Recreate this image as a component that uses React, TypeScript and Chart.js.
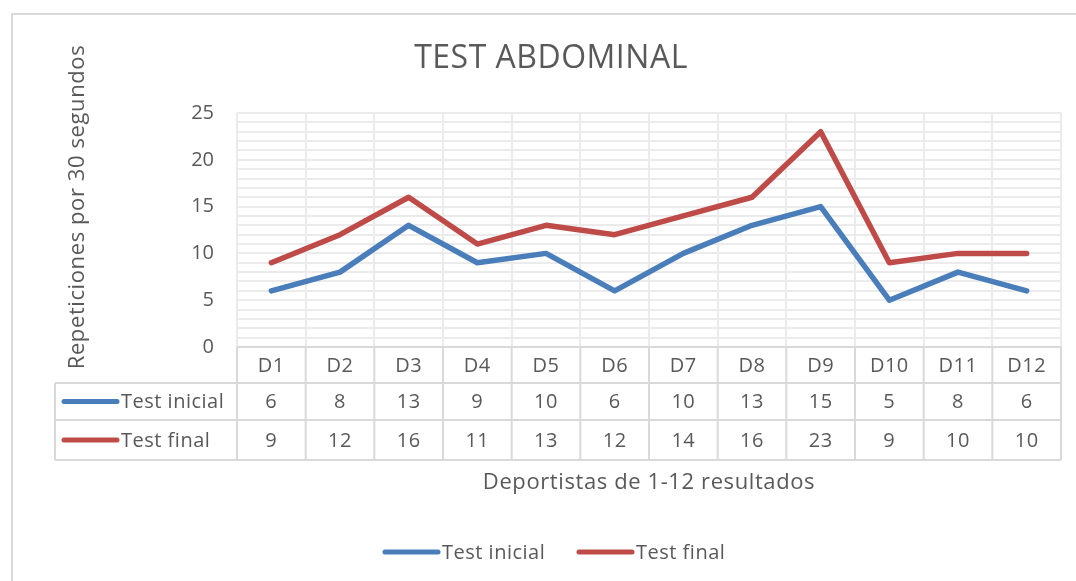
import React, { useEffect, useRef } from "react";
import { Chart, registerables } from "chart.js";

Chart.register(...registerables);

const categories = ["D1", "D2", "D3", "D4", "D5", "D6", "D7", "D8", "D9", "D10", "D11", "D12"];
const testInicial = [6, 8, 13, 9, 10, 6, 10, 13, 15, 5, 8, 6];
const testFinal = [9, 12, 16, 11, 13, 12, 14, 16, 23, 9, 10, 10];
const seriesNames = ["Test inicial", "Test final"];
const seriesColors = ["#4a7ebb", "#be4b48"];
const chartTitle = "TEST ABDOMINAL";
const yTitle = "Repeticiones por 30 segundos";
const xTitle = "Deportistas de 1-12 resultados";

const FONT = "'Open Sans', 'DejaVu Sans', sans-serif";
const TEXT = "#595959";
const BORDER = "#d9d9d9";

const tablePlugin = {
  id: "excelDecor",
  afterDraw(chart: any) {
    const ctx = chart.ctx as any;
    const x = chart.scales.x;
    const area = chart.chartArea;
    const n = categories.length;
    const step = (area.right - area.left) / n;
    const rowTop = area.bottom;
    const rowH = [36, 37, 40];
    const r1 = rowTop + rowH[0];
    const r2 = r1 + rowH[1];
    const r3 = r2 + rowH[2];
    const labelLeft = 55;

    ctx.save();
    // outer chart border
    ctx.strokeStyle = BORDER;
    ctx.lineWidth = 2;
    ctx.strokeRect(12, 14, 1200, 700);

    // table grid
    ctx.lineWidth = 2;
    ctx.strokeStyle = BORDER;
    ctx.beginPath();
    ctx.moveTo(area.left, rowTop);
    ctx.lineTo(area.right, rowTop);
    ctx.moveTo(labelLeft, r1);
    ctx.lineTo(area.right, r1);
    ctx.moveTo(labelLeft, r2);
    ctx.lineTo(area.right, r2);
    ctx.moveTo(labelLeft, r3);
    ctx.lineTo(area.right, r3);
    ctx.moveTo(labelLeft, r1);
    ctx.lineTo(labelLeft, r3);
    for (let i = 0; i <= n; i++) {
      const px = area.left + i * step;
      ctx.moveTo(px, rowTop);
      ctx.lineTo(px, r3);
    }
    ctx.stroke();

    // table texts
    ctx.fillStyle = TEXT;
    ctx.font = `20px ${FONT}`;
    ctx.letterSpacing = "0.5px";
    ctx.textAlign = "center";
    ctx.textBaseline = "middle";
    const rows = [testInicial, testFinal];
    for (let i = 0; i < n; i++) {
      const cx = x.getPixelForValue(i);
      ctx.fillText(categories[i], cx, rowTop + rowH[0] / 2 + 1);
      ctx.fillText(String(rows[0][i]), cx, r1 + rowH[1] / 2 + 1);
      ctx.fillText(String(rows[1][i]), cx, r2 + rowH[2] / 2 + 1);
    }

    // legend keys in table
    const keyRows = [r1 + rowH[1] / 2, r2 + rowH[2] / 2];
    ctx.lineCap = "round";
    for (let s = 0; s < 2; s++) {
      ctx.strokeStyle = seriesColors[s];
      ctx.lineWidth = 5;
      ctx.beginPath();
      ctx.moveTo(64, keyRows[s]);
      ctx.lineTo(117, keyRows[s]);
      ctx.stroke();
      ctx.fillStyle = TEXT;
      ctx.textAlign = "left";
      ctx.fillText(seriesNames[s], 121, keyRows[s] + 1);
    }

    // title
    ctx.textAlign = "center";
    ctx.font = `32px ${FONT}`;
    ctx.fillText(chartTitle, 551, 59);

    // x axis title
    ctx.font = `22px ${FONT}`;
    ctx.letterSpacing = "0.6px";
    ctx.fillText(xTitle, 649, 483);

    // y axis title
    ctx.save();
    ctx.translate(78, 207);
    ctx.rotate(-Math.PI / 2);
    ctx.fillText(yTitle, 0, 0);
    ctx.restore();

    // bottom legend
    ctx.font = `20px ${FONT}`;
    ctx.letterSpacing = "0.5px";
    ctx.textAlign = "left";
    const legendY = 552;
    const starts = [385, 579];
    for (let s = 0; s < 2; s++) {
      ctx.strokeStyle = seriesColors[s];
      ctx.lineWidth = 5;
      ctx.beginPath();
      ctx.moveTo(starts[s], legendY);
      ctx.lineTo(starts[s] + 53, legendY);
      ctx.stroke();
      ctx.fillStyle = TEXT;
      ctx.fillText(seriesNames[s], starts[s] + 57, legendY + 1);
    }
    ctx.letterSpacing = "0px";
    ctx.restore();
  },
};

export default function App() {
  const ref = useRef<HTMLCanvasElement | null>(null);
  useEffect(() => {
    if (!ref.current) return;
    const chart = new Chart(ref.current, {
      type: "line",
      data: {
        labels: categories,
        datasets: [
          {
            label: seriesNames[0],
            data: testInicial,
            borderColor: seriesColors[0],
            backgroundColor: seriesColors[0],
            borderWidth: 5.5,
            pointRadius: 0,
            tension: 0,
            borderCapStyle: "round",
            borderJoinStyle: "round",
          },
          {
            label: seriesNames[1],
            data: testFinal,
            borderColor: seriesColors[1],
            backgroundColor: seriesColors[1],
            borderWidth: 5.5,
            pointRadius: 0,
            tension: 0,
            borderCapStyle: "round",
            borderJoinStyle: "round",
          },
        ],
      },
      options: {
        animation: false,
        responsive: true,
        maintainAspectRatio: false,
        layout: { padding: { left: 0, top: 113, right: 15, bottom: 234 } },
        plugins: { legend: { display: false }, tooltip: { enabled: false }, title: { display: false } },
        scales: {
          x: {
            type: "category",
            offset: true,
            grid: { offset: true, color: "#ebebeb", lineWidth: 2, drawTicks: false },
            border: { display: false },
            ticks: { display: false },
            afterFit: (s: any) => {
              s.height = 0;
            },
          },
          y: {
            min: 0,
            max: 25,
            grid: { color: "#ebebeb", lineWidth: 2, drawTicks: false },
            border: { display: false },
            ticks: {
              stepSize: 1,
              autoSkip: false,
              padding: 23,
              color: TEXT,
              font: { family: FONT, size: 20 },
              callback: (v: any) => (Number(v) % 5 === 0 ? String(v) : ""),
            },
            afterFit: (s: any) => {
              s.width = 237;
            },
          },
        },
      },
      plugins: [tablePlugin],
    });
    return () => chart.destroy();
  }, []);
  return (
    <div style={{ position: "fixed", left: 0, top: 0, width: 1076, height: 581, background: "#fff" }}>
      <canvas ref={ref} />
    </div>
  );
}
